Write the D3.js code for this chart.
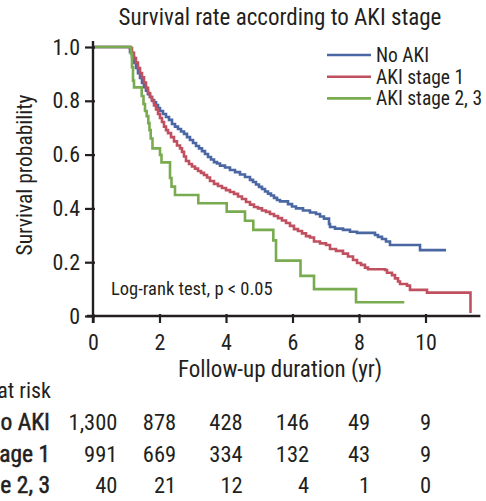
<!DOCTYPE html>
<html>
<head>
<meta charset="utf-8">
<script src="https://cdn.jsdelivr.net/npm/d3@7/dist/d3.min.js"></script>
<style>
  html, body { margin: 0; padding: 0; background: #ffffff; }
  svg { display: block; }
  text { font-family: "Liberation Sans Narrow", "Roboto Condensed", "Arial Narrow", Roboto, sans-serif; fill: #231f20; }
</style>
</head>
<body>
<script>
// ---------------- data ----------------
const chartTitle = "Survival rate according to AKI stage";
const xAxisTitle = "Follow-up duration (yr)";
const yAxisTitle = "Survival probability";
const noteText = "Log-rank test, p < 0.05";

const seriesNames = ["No AKI", "AKI stage 1", "AKI stage 2, 3"];
const seriesColors = ["#4a67a3", "#c0505f", "#79ab51"];

const xTicks = [0, 2, 4, 6, 8, 10];
const xTickLabels = ["0", "2", "4", "6", "8", "10"];
const yTicks = [0, 0.2, 0.4, 0.6, 0.8, 1.0];
const yTickLabels = ["0", "0.2", "0.4", "0.6", "0.8", "1.0"];

// No AKI (time in years, survival probability)
const noAkiTime = [0, 1.113, 1.173, 1.233, 1.293, 1.353, 1.414, 1.474, 1.534, 1.594, 1.654, 1.714, 1.774, 1.835, 1.895, 1.955, 2.015,
  2.105, 2.195, 2.286, 2.376, 2.466, 2.556, 2.647, 2.737, 2.827, 2.917, 3.008, 3.098, 3.188, 3.278, 3.368, 3.459, 3.549, 3.639,
  3.729, 3.820, 3.970, 4.120, 4.271, 4.421, 4.571, 4.722, 4.812, 4.902, 4.992, 5.083, 5.173, 5.263, 5.353, 5.444, 5.534, 5.624,
  5.865, 5.985, 6.105, 6.316, 6.526, 6.707, 6.827, 6.947, 7.098, 7.128, 7.278, 7.519, 7.729, 7.940, 8.481, 8.571, 8.692, 8.812,
  8.932, 9.113, 9.835, 10.617];
const noAkiSurv = [1.0, 0.981, 0.963, 0.941, 0.922, 0.903, 0.885, 0.866, 0.851, 0.838, 0.825, 0.814, 0.803, 0.794, 0.784, 0.773, 0.762,
  0.751, 0.740, 0.729, 0.714, 0.704, 0.695, 0.686, 0.677, 0.665, 0.654, 0.643, 0.632, 0.623, 0.613, 0.602, 0.591, 0.582, 0.572,
  0.567, 0.559, 0.552, 0.543, 0.535, 0.526, 0.517, 0.506, 0.498, 0.489, 0.480, 0.472, 0.463, 0.455, 0.448, 0.439, 0.431, 0.426,
  0.416, 0.407, 0.400, 0.392, 0.385, 0.379, 0.370, 0.362, 0.342, 0.331, 0.325, 0.320, 0.313, 0.309, 0.301, 0.294, 0.286, 0.277,
  0.264, 0.264, 0.245, 0.245];

// AKI stage 1
const stage1Time = [0, 1.113, 1.173, 1.233, 1.293, 1.353, 1.414, 1.474, 1.534, 1.594, 1.654, 1.714, 1.774, 1.835, 1.895, 1.955, 2.015,
  2.075, 2.135, 2.195, 2.256, 2.346, 2.436, 2.526, 2.617, 2.677, 2.737, 2.797, 2.887, 2.977, 3.068, 3.158, 3.248, 3.338, 3.429,
  3.519, 3.639, 3.759, 3.880, 4.000, 4.120, 4.241, 4.361, 4.481, 4.602, 4.722, 4.842, 4.962, 5.083, 5.203, 5.323, 5.444, 5.564,
  5.684, 5.805, 5.925, 6.045, 6.165, 6.286, 6.406, 6.526, 6.647, 6.827, 7.008, 7.128, 7.308, 7.519, 7.669, 7.820, 7.940, 8.060,
  8.180, 8.271, 8.782, 8.842, 8.992, 9.083, 9.173, 9.233, 9.444, 9.534, 10.045, 11.353];
const stage1Surv = [1.0, 0.996, 0.978, 0.959, 0.942, 0.922, 0.903, 0.887, 0.868, 0.848, 0.829, 0.814, 0.799, 0.783, 0.768, 0.751, 0.736,
  0.721, 0.704, 0.691, 0.680, 0.665, 0.649, 0.634, 0.623, 0.610, 0.593, 0.576, 0.565, 0.556, 0.548, 0.539, 0.532, 0.524, 0.515,
  0.502, 0.491, 0.483, 0.476, 0.468, 0.461, 0.454, 0.444, 0.435, 0.424, 0.414, 0.405, 0.400, 0.392, 0.387, 0.379, 0.372, 0.364,
  0.355, 0.346, 0.335, 0.323, 0.316, 0.307, 0.297, 0.292, 0.277, 0.270, 0.264, 0.249, 0.242, 0.232, 0.221, 0.208, 0.197, 0.190,
  0.180, 0.174, 0.171, 0.161, 0.152, 0.140, 0.128, 0.119, 0.113, 0.097, 0.087, 0.011];

// AKI stage 2, 3
const stage23Time = [0, 1.143, 1.173, 1.203, 1.233, 1.465, 1.519, 1.564, 1.615, 1.663, 1.699, 1.735, 1.789, 2.015, 2.060, 2.316,
  2.361, 2.466, 3.167, 4.021, 4.571, 4.821, 5.423, 5.504, 6.241, 6.647, 7.910, 9.362];
const stage23Surv = [1.0, 0.975, 0.925, 0.875, 0.850, 0.818, 0.788, 0.762, 0.743, 0.717, 0.691, 0.660, 0.623, 0.599, 0.571, 0.513,
  0.481, 0.450, 0.419, 0.388, 0.354, 0.320, 0.281, 0.206, 0.149, 0.100, 0.051, 0.051];

// Number at risk
const riskTitle = "Number at risk";
const riskTimes = [0, 2, 4, 6, 8, 10];
const riskNoAki = [1300, 878, 428, 146, 49, 9];
const riskStage1 = [991, 669, 334, 132, 43, 9];
const riskStage23 = [40, 21, 12, 4, 1, 0];

// ---------------- drawing ----------------
const W = 486, H = 501;
const svg = d3.select("body").append("svg").attr("width", W).attr("height", H);
svg.append("rect").attr("width", W).attr("height", H).attr("fill", "#ffffff");

const x = d3.scaleLinear().domain([0, 10]).range([93, 425.5]);
const y = d3.scaleLinear().domain([0, 1]).range([316, 47]);
const xMax = 11.65;

// title
svg.append("text").attr("x", 280).attr("y", 25).attr("text-anchor", "middle")
  .style("font-size", "23px").text(chartTitle);

// curves
const series = [
  { t: noAkiTime, s: noAkiSurv },
  { t: stage1Time, s: stage1Surv },
  { t: stage23Time, s: stage23Surv }
];
const line = d3.line().x(d => x(d[0])).y(d => y(d[1])).curve(d3.curveStepAfter);
series.forEach((ser, i) => {
  const pts = ser.t.map((t, k) => [t, ser.s[k]]);
  svg.append("path").attr("d", line(pts)).attr("fill", "none")
    .attr("stroke", seriesColors[i]).attr("stroke-width", 2.6)
    .attr("stroke-linejoin", "miter");
});

// axes
const axisColor = "#231f20";
const gy = svg.append("g").attr("transform", `translate(${x(0)},0)`)
  .call(d3.axisLeft(y).tickValues(yTicks).tickSize(8).tickFormat((d, i) => yTickLabels[i]));
gy.select(".domain").remove();
gy.selectAll(".tick line").attr("x1", 2).attr("x2", -8).attr("stroke", axisColor).attr("stroke-width", 2.2);
gy.selectAll(".tick text").attr("x", -13).style("font-size", "22px").attr("fill", axisColor).attr("font-family", null);
gy.append("line").attr("x1", 0).attr("x2", 0).attr("y1", y(1) - 6).attr("y2", y(0) + 7)
  .attr("stroke", axisColor).attr("stroke-width", 2.4);

const gx = svg.append("g").attr("transform", `translate(0,${y(0)})`)
  .call(d3.axisBottom(x).tickValues(xTicks).tickSize(7).tickFormat((d, i) => xTickLabels[i]));
gx.select(".domain").remove();
gx.selectAll(".tick line").attr("y1", -2).attr("y2", 7).attr("stroke", axisColor).attr("stroke-width", 2.2);
gx.selectAll(".tick text").attr("y", 34).attr("dy", 0).style("font-size", "22px").attr("fill", axisColor).attr("font-family", null);
gx.append("line").attr("x1", x(0) - 6).attr("x2", x(xMax)).attr("y1", 0).attr("y2", 0)
  .attr("stroke", axisColor).attr("stroke-width", 2.4);

// axis titles
svg.append("text").attr("x", 280).attr("y", 377).attr("text-anchor", "middle")
  .style("font-size", "23px").text(xAxisTitle);
svg.append("text").attr("transform", "translate(32,175) rotate(-90)").attr("text-anchor", "middle")
  .style("font-size", "21.5px").text(yAxisTitle);

// note
svg.append("text").attr("x", 111).attr("y", 295).style("font-size", "18.5px").text(noteText);

// legend
const legend = svg.append("g");
seriesNames.forEach((name, i) => {
  const ly = 55 + i * 21.7;
  legend.append("line").attr("x1", 327).attr("x2", 371).attr("y1", ly).attr("y2", ly)
    .attr("stroke", seriesColors[i]).attr("stroke-width", 2.6);
  legend.append("text").attr("x", 376).attr("y", ly + 7).style("font-size", "19.5px").text(name);
});

// number at risk table
const fmt = d3.format(",");
const riskRows = [riskNoAki, riskStage1, riskStage23];
svg.append("text").attr("x", 51).attr("y", 398).attr("text-anchor", "end")
  .style("font-size", "22px").text(riskTitle);
const rowY = [430, 462, 493];
seriesNames.forEach((name, r) => {
  svg.append("text").attr("x", 50).attr("y", rowY[r]).attr("text-anchor", "end")
    .style("font-size", "23.5px").attr("stroke", "#231f20").attr("stroke-width", 0.5).text(name);
});
// measure widest entry per column, then right-align so the widest entry is centred on its tick
riskTimes.forEach((t, c) => {
  const col = svg.append("g");
  const texts = riskRows.map((row, r) =>
    col.append("text").attr("y", rowY[r]).attr("text-anchor", "end")
      .style("font-size", "22.5px").text(fmt(row[c])));
  const maxW = d3.max(texts, tx => tx.node().getComputedTextLength());
  texts.forEach(tx => tx.attr("x", x(t) + maxW / 2));
});
</script>
</body>
</html>
